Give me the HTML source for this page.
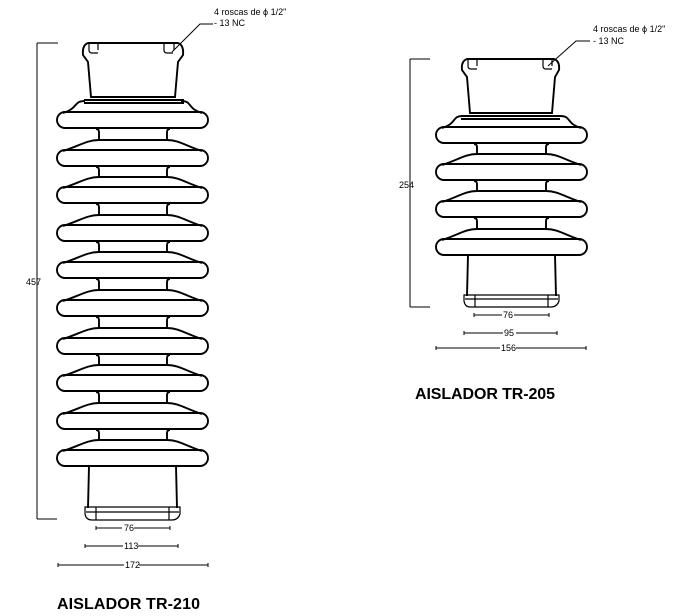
<!DOCTYPE html>
<html><head><meta charset="utf-8"><style>
html,body{margin:0;padding:0;background:#fff;}
svg{display:block}
text{font-family:"Liberation Sans",sans-serif;fill:#000}
</style></head><body>
<svg id="s" width="690" height="616" viewBox="0 0 690 616" xmlns="http://www.w3.org/2000/svg">
<g fill="none" stroke="#000" stroke-width="1.9" id="g">
<path d="M88 43 L178 43 Q184 45 183 55 L178 62 L175 97 L91 97 L88 62 L83 55 Q82 45 88 43 Z"/>
<path d="M89 44 v6 q0 3 3 3 h6 M98 44 v6" stroke-width="1.2"/>
<path d="M164 44 v6 q0 3 3 3 h6 M174 44 v6" stroke-width="1.2"/>
<path d="M84 100 H184 M84 103 H184" />
<path d="M467 59 L554 59 Q560 61 559 70 L555 77 L552 113 L470 113 L467 77 L462 70 Q461 61 467 59 Z"/>
<path d="M468 60 v6 q0 3 3 3 h6 M477 60 v6" stroke-width="1.2"/>
<path d="M543 60 v6 q0 3 3 3 h6 M552 60 v6" stroke-width="1.2"/>
<path d="M461 116 H560 M461 119 H560"/>
<path d="M89 466 L88 508 M176 466 L177 508"/>
<path d="M85 507 H180 V514 Q178 520 172 520 H92 Q86 520 85 514 Z M86 512 H179 M96 507 V520 M169 507 V520" stroke-width="1.2"/>
<path d="M468 255 L467 296 M555 255 L556 296"/>
<path d="M464 295 H559 V301 Q557 307 551 307 H470 Q465 307 464 301 Z M465 299 H558 M475 295 V307 M548 295 V307" stroke-width="1.2"/>
<path d="M37 43 V519 M37 43 H58 M37 519 H57" stroke-width="1"/>
<path d="M410 59 V307 M410 59 H430 M410 307 H430" stroke-width="1"/>
<path d="M96 528 H122 M134 528 H170 M96 526 v4 M170 526 v4" stroke-width="1"/>
<path d="M85 546 H123 M138 546 H178 M85 544 v4 M178 544 v4" stroke-width="1"/>
<path d="M58 565 H124 M139 565 H208 M58 563 v4 M208 563 v4" stroke-width="1"/>
<path d="M474 315 H502 M514 315 H549 M474 313 v4 M549 313 v4" stroke-width="1"/>
<path d="M464 333 H503 M516 333 H557 M464 331 v4 M557 331 v4" stroke-width="1"/>
<path d="M436 348 H500 M516 348 H586 M436 346 v4 M586 346 v4" stroke-width="1"/>
<path d="M213 24 H200 L172 52 M590 41 H576 L548 66" stroke-width="1"/>
</g>
<g font-size="9">
<text x="214" y="15">4 roscas de ϕ 1/2"</text>
<text x="214" y="26">- 13 NC</text>
<text x="593" y="32">4 roscas de ϕ 1/2"</text>
<text x="593" y="44">- 13 NC</text>
<text x="26" y="285">457</text>
<text x="399" y="188">254</text>
<text x="124" y="531">76</text>
<text x="124" y="549">113</text>
<text x="125" y="568">172</text>
<text x="503" y="318">76</text>
<text x="504" y="336">95</text>
<text x="501" y="351">156</text>
</g>
<text x="57" y="609" font-size="16" font-weight="bold" textLength="143">AISLADOR TR-210</text>
<text x="415" y="399" font-size="16" font-weight="bold" textLength="140">AISLADOR TR-205</text>
</svg>
<script>
var g=document.getElementById('g');
function p(d){var e=document.createElementNS('http://www.w3.org/2000/svg','path');e.setAttribute('d',d);g.appendChild(e);}
function sheds(x1,x2,cL,cR,centers){
 for(var i=0;i<centers.length;i++){
  var c=centers[i],t=c-8,b=c+8,r=8;
  p('M'+(x1+r)+' '+t+' H'+(x2-r)+' A'+r+' '+r+' 0 0 1 '+(x2-r)+' '+b+' H'+(x1+r)+' A'+r+' '+r+' 0 0 1 '+(x1+r)+' '+t+' Z');
  var bt=c-18, bl=cL, br=cR;
  if(i==0){bt=c-19;bl=cL-14;br=cR+14;}
  p('M'+bl+' '+bt+' C'+(bl-12)+' '+bt+' '+(x1+22)+' '+(t-4)+' '+(x1+6)+' '+(t+1));
  p('M'+br+' '+bt+' C'+(br+12)+' '+bt+' '+(x2-22)+' '+(t-4)+' '+(x2-6)+' '+(t+1));
  if(i>0)p('M'+bl+' '+bt+' H'+br);
  if(i<centers.length-1){
   var nb=centers[i+1]-18;
   p('M'+(cL-3)+' '+(b+1)+' q3 0 3 3 V'+nb+' M'+(cR+3)+' '+(b+1)+' q-3 0 -3 3 V'+nb);
  }
 }
}
var L=[];for(var i=0;i<10;i++)L.push(Math.round(120+i*37.6));
sheds(57,208,99,167,L);
sheds(436,587,477,546,[135,172,209,247]);
</script>
</body></html>
